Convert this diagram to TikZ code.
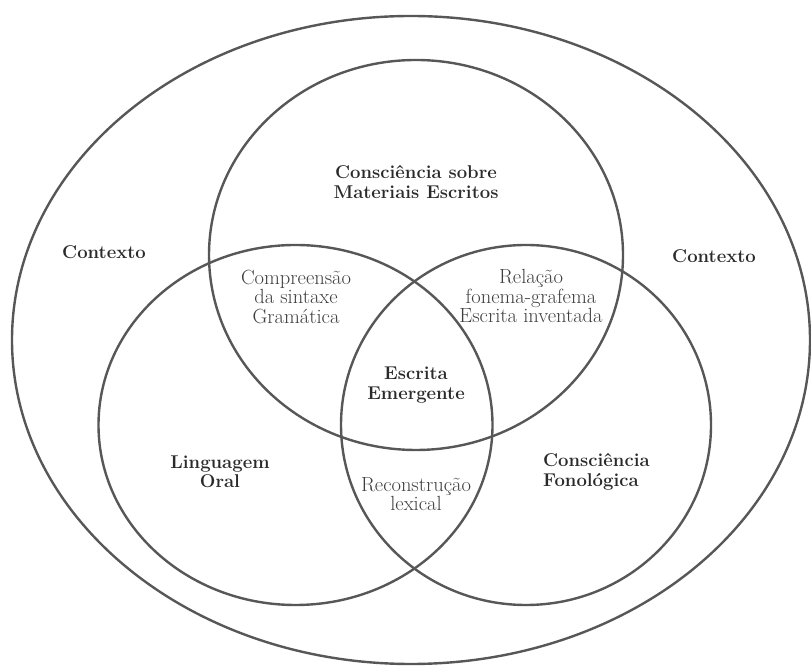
\documentclass[tikz,border=0pt]{standalone}
\usepackage{fontspec}
\definecolor{ink}{HTML}{575757}
\definecolor{dark}{HTML}{2A2A2A}
\definecolor{mid}{HTML}{3E3E3E}

\begin{document}
\begin{tikzpicture}[x=1pt,y=1pt,
  ring/.style={draw=ink,line width=2.4pt},
  lbl/.style={font=\fontsize{18.5}{19.5}\selectfont\bfseries,text=dark,align=center,inner sep=0pt},
  sub/.style={font=\fontsize{20.5}{19.5}\selectfont,text=mid,align=center,inner sep=0pt}]
\useasboundingbox (0,0) rectangle (811,666);
% context and the three areas
\draw[ring] (411,326) ellipse [x radius=399, y radius=324];
\draw[ring] (416,411) ellipse [x radius=207, y radius=195];
\draw[ring] (295.5,241) ellipse [x radius=197, y radius=180];
\draw[ring] (526,241) ellipse [x radius=185, y radius=180];
% labels
\node[lbl] (mat) at (416,484) {Consciência sobre\\Materiais Escritos};
\node[lbl] (ctxl) at (104,414) {Contexto};
\node[lbl] (ctxr) at (714,410) {Contexto};
\node[sub] (comp) at (296,369) {Compreensão\\da sintaxe\\Gramática};
\node[sub] (rel) at (531,370) {Relação\\fonema-grafema\\Escrita inventada};
\node[lbl] (emer) at (416,281) {Escrita\\Emergente};
\node[lbl] (oral) at (220,194) {Linguagem\\Oral};
\node[lbl,align=left,anchor=west] (fono) at (543,194) {Consciência\\Fonológica};
\node[sub] (lex) at (416,172) {Reconstrução\\lexical};
\end{tikzpicture}
\end{document}
